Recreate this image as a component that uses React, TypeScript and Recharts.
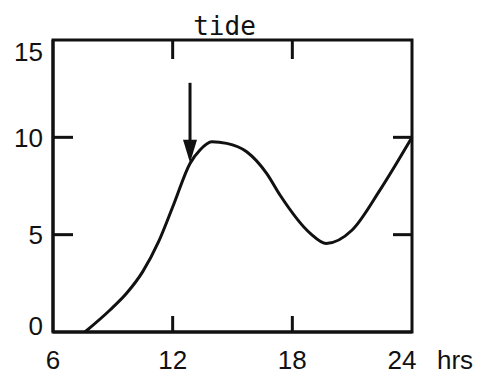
import { ComposedChart, Line, XAxis, YAxis, ReferenceLine, ReferenceArea, Label } from "recharts"

// tide height vs hour of day
const hours = [7.6, 8.86, 9.7, 10.5, 11.3, 12.05, 12.87, 13.37, 13.96, 14.71, 15.71, 16.71, 17.38, 18.9, 19.7, 21.0, 22.4, 24]
const tide = [0, 1.13, 2.0, 3.1, 4.65, 6.55, 8.66, 9.35, 9.77, 9.69, 9.26, 8.15, 7.04, 5.07, 4.55, 5.24, 7.3, 10]

const xTicks = [6, 12, 18, 24]
const yTicks = [0, 5, 10, 15]
const xInner = [12, 18]
const yInner = [5, 10]
const arrowAt = 12.87
const arrowFrom = 12.8
const arrowTo = 8.7

const data = hours.map((h, i) => ({ h, tide: tide[i] }))

const ink = "#111"
const labelFont = "'Liberation Sans', Arial, sans-serif"

const BottomTick = (p: any) => {
    const v = p.payload.value
    if (v === 24) {
        return (
            <g>
                <text x={p.x - 10} y={369} textAnchor="middle" fontSize={26} fontFamily={labelFont} fill={ink}>24</text>
                <text x={p.x + 25} y={369} textAnchor="start" fontSize={26} fontFamily={labelFont} fill={ink}>hrs</text>
            </g>
        )
    }
    return <text x={p.x} y={369} textAnchor="middle" fontSize={26} fontFamily={labelFont} fill={ink}>{v}</text>
}

const LeftTick = (p: any) => {
    const v = p.payload.value
    const shift = v === 15 ? 12 : v === 0 ? -6 : 0
    return (
        <text x={43} y={p.y + shift} dy="0.355em" textAnchor="end" fontSize={26} fontFamily={labelFont} fill={ink}>{v}</text>
    )
}

// inward tick marks on top/bottom edges
const XMark = (p: any) => {
    const top = Math.min(p.y1, p.y2)
    const bot = Math.max(p.y1, p.y2)
    return (
        <g stroke={ink} strokeWidth={3}>
            <line x1={p.x1} x2={p.x1} y1={top} y2={top + 19} />
            <line x1={p.x1} x2={p.x1} y1={bot - 16} y2={bot} />
        </g>
    )
}

// inward tick marks on left/right edges
const YMark = (p: any) => {
    const l = Math.min(p.x1, p.x2)
    const r = Math.max(p.x1, p.x2)
    return (
        <g stroke={ink} strokeWidth={3}>
            <line x1={l} x2={l + 20} y1={p.y1} y2={p.y1} />
            <line x1={r - 19} x2={r} y1={p.y1} y2={p.y1} />
        </g>
    )
}

const Arrow = (p: any) => {
    const { x1, y1, x2, y2 } = p
    if (x1 == null) return <g />
    return (
        <g>
            <line x1={x1} y1={y1} x2={x2} y2={y2 - 18} stroke={ink} strokeWidth={3} />
            <polygon points={`${x2 - 7},${y2 - 23} ${x2 + 7},${y2 - 23} ${x2},${y2}`} fill={ink} />
        </g>
    )
}

export default function App() {
    const axisLine = { stroke: ink, strokeWidth: 3 }
    return (
        <div style={{ position: "absolute", left: 0, top: 0, background: "#fff" }}>
            <ComposedChart width={482} height={374} data={data} margin={{ top: 40, right: 70, bottom: 0, left: 13 }}>
                <XAxis dataKey="h" type="number" domain={[6, 24]} ticks={xTicks} height={42}
                    axisLine={axisLine} tickLine={false} tick={<BottomTick />} interval={0} />
                <YAxis type="number" domain={[0, 15]} ticks={yTicks} width={40}
                    axisLine={axisLine} tickLine={false} tick={<LeftTick />} interval={0} />
                <ReferenceArea x1={6} x2={24} y1={0} y2={15} fill="none" stroke={ink} strokeWidth={3}>
                    <Label value="tide" position="top" offset={5} dx={-8} fontSize={26} fill={ink}
                        fontFamily="'DejaVu Sans Mono', 'Liberation Mono', monospace" />
                </ReferenceArea>
                {xInner.map(v => <ReferenceLine key={"x" + v} x={v} shape={<XMark />} />)}
                {yInner.map(v => <ReferenceLine key={"y" + v} y={v} shape={<YMark />} />)}
                <Line type="monotone" dataKey="tide" stroke={ink} strokeWidth={3} dot={false} isAnimationActive={false} />
                <ReferenceLine segment={[{ x: arrowAt, y: arrowFrom }, { x: arrowAt, y: arrowTo }]} shape={<Arrow />} />
            </ComposedChart>
        </div>
    )
}
